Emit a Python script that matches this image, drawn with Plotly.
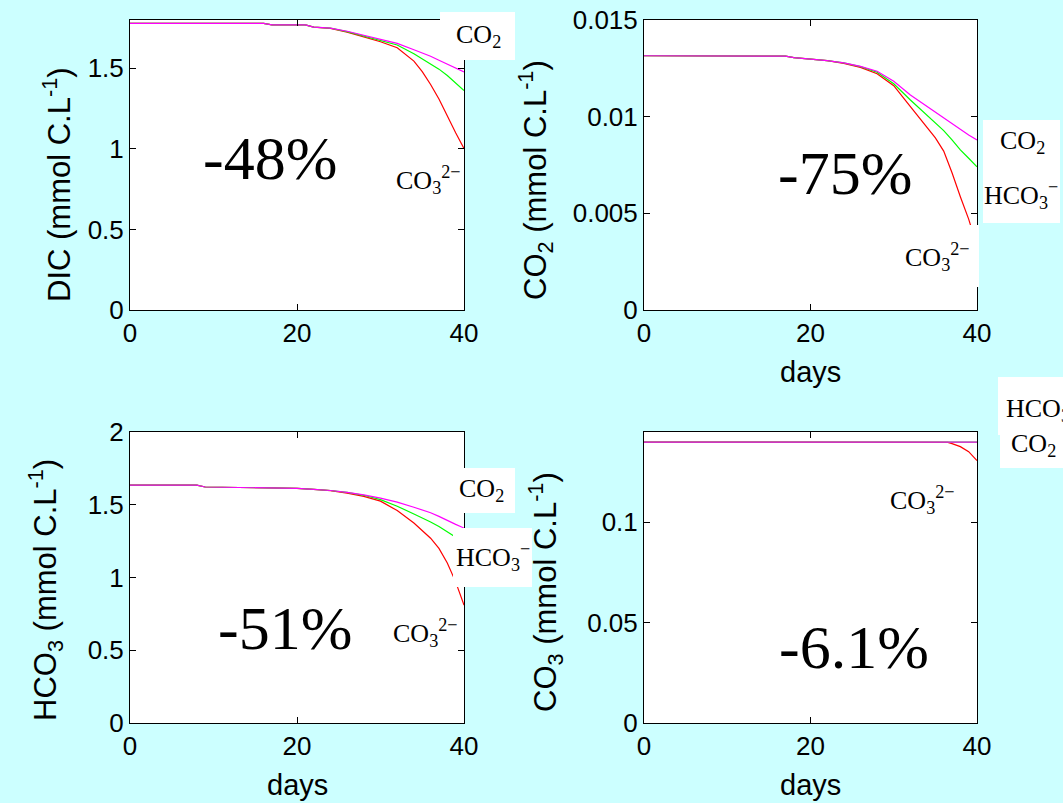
import plotly.graph_objects as go

W, H = 1063, 803

# ---------------- data ----------------
# Panel 1: DIC
dic_days = [0, 10, 16, 17, 21, 22, 24, 26, 28, 30, 32, 34, 35, 36, 37, 38, 39, 40]
dic_co2 = [1.779, 1.779, 1.779, 1.770, 1.770, 1.756, 1.750, 1.730, 1.705, 1.680, 1.655, 1.615, 1.595, 1.575, 1.550, 1.525, 1.500, 1.478]
dic_hco3 = [1.779, 1.779, 1.779, 1.770, 1.770, 1.756, 1.750, 1.728, 1.700, 1.672, 1.645, 1.590, 1.560, 1.530, 1.495, 1.455, 1.410, 1.362]
dic_co3 = [1.779, 1.779, 1.779, 1.770, 1.770, 1.756, 1.748, 1.725, 1.695, 1.665, 1.628, 1.545, 1.480, 1.400, 1.310, 1.200, 1.100, 1.003]

# Panel 2: CO2
co2_days = [0, 12, 17, 18, 20, 22, 24, 26, 28, 30, 32, 34, 35, 36, 37, 38, 39, 40]
co2_co2 = [0.01315, 0.01315, 0.01313, 0.01305, 0.01298, 0.01290, 0.01278, 0.01260, 0.01235, 0.01183, 0.01112, 0.01052, 0.01022, 0.00993, 0.00962, 0.00931, 0.00905, 0.00879]
co2_hco3 = [0.01315, 0.01315, 0.01313, 0.01305, 0.01298, 0.01290, 0.01278, 0.01259, 0.01230, 0.01170, 0.01086, 0.01009, 0.00970, 0.00928, 0.00880, 0.00828, 0.00785, 0.00741]
co2_co3 = [0.01315, 0.01315, 0.01313, 0.01305, 0.01298, 0.01290, 0.01276, 0.01255, 0.01222, 0.01160, 0.01052, 0.00948, 0.00890, 0.00822, 0.00710, 0.00586, 0.00470, 0.00330]

# Panel 3: HCO3
hco3_days = [0, 8, 9, 20, 22, 24, 26, 28, 30, 32, 34, 35, 36, 37, 38, 39, 40]
hco3_co2 = [1.635, 1.635, 1.622, 1.613, 1.605, 1.598, 1.585, 1.568, 1.545, 1.518, 1.483, 1.465, 1.445, 1.420, 1.390, 1.365, 1.340]
hco3_hco3 = [1.635, 1.635, 1.622, 1.613, 1.605, 1.598, 1.585, 1.565, 1.535, 1.490, 1.437, 1.410, 1.382, 1.350, 1.315, 1.275, 1.240]
hco3_co3 = [1.635, 1.635, 1.622, 1.613, 1.605, 1.597, 1.580, 1.558, 1.525, 1.460, 1.375, 1.325, 1.270, 1.200, 1.100, 0.970, 0.810]

# Panel 4: CO3
co3_days = [0, 20, 36, 36.5, 37, 38, 39, 40]
co3_co2 = [0.1400, 0.1400, 0.1400, 0.1400, 0.1400, 0.1400, 0.1400, 0.1400]
co3_hco3 = [0.1400, 0.1400, 0.1400, 0.1400, 0.1400, 0.1400, 0.1400, 0.1400]
co3_co3 = [0.1400, 0.1400, 0.1400, 0.1398, 0.1392, 0.1377, 0.1352, 0.1308]

x_ticks = [0, 20, 40]
y_ranges = [[0, 1.8], [0, 0.015], [0, 2], [0, 0.145]]
y_ticks = [[0, 0.5, 1, 1.5], [0, 0.005, 0.01, 0.015], [0, 0.5, 1, 1.5, 2], [0, 0.05, 0.1]]
y_ticktext = [["0", "0.5", "1", "1.5"], ["0", "0.005", "0.01", "0.015"],
              ["0", "0.5", "1", "1.5", "2"], ["0", "0.05", "0.1"]]
y_titles = ["DIC (mmol C.L<sup>-1</sup>)", "CO<sub>2</sub> (mmol C.L<sup>-1</sup>)",
            "HCO<sub>3</sub> (mmol C.L<sup>-1</sup>)", "CO<sub>3</sub> (mmol C.L<sup>-1</sup>)"]
pct_labels = ["-48%", "-75%", "-51%", "-6.1%"]

panels = [
    (dic_days, dic_co3, dic_hco3, dic_co2),
    (co2_days, co2_co3, co2_hco3, co2_co2),
    (hco3_days, hco3_co3, hco3_hco3, hco3_co2),
    (co3_days, co3_co3, co3_hco3, co3_co2),
]
colors = ["#FF0000", "#00FF00", "#FF00FF"]
names = ["CO3", "HCO3", "CO2"]

# pixel boxes of the axes (left, right, top, bottom)
boxes = [(130, 464, 20, 310), (644, 977, 20, 310), (130, 464, 432, 723), (644, 977, 432, 723)]


def px(x):
    return x / W


def py(y):
    return 1 - y / H


fig = go.Figure()
for i, (days, r, g, m) in enumerate(panels):
    suffix = "" if i == 0 else str(i + 1)
    for vals, c, n in zip((r, g, m), colors, names):
        fig.add_trace(go.Scatter(x=days, y=vals, mode="lines", name=n,
                                 line=dict(color=c, width=1.2),
                                 xaxis="x" + suffix, yaxis="y" + suffix,
                                 showlegend=False, hoverinfo="skip"))

tickfont = dict(family="Liberation Sans, Arial, sans-serif", size=26, color="black")
layout = dict(width=W, height=H, autosize=False,
              margin=dict(l=0, r=0, t=0, b=0, pad=0, autoexpand=False),
              paper_bgcolor="#CCFFFF", plot_bgcolor="white", showlegend=False)
for i, (l, rr, t, b) in enumerate(boxes):
    suffix = "" if i == 0 else str(i + 1)
    layout["xaxis" + suffix] = dict(
        domain=[px(l), px(rr)], range=[0, 40], tickvals=x_ticks,
        ticks="inside", ticklen=6, tickcolor="black", showline=True, linecolor="black",
        linewidth=1, mirror="ticks", showgrid=False, zeroline=False, tickfont=tickfont,
        anchor="y" + suffix, fixedrange=True, automargin=False)
    layout["yaxis" + suffix] = dict(
        domain=[py(b), py(t)], range=y_ranges[i], tickvals=y_ticks[i], ticktext=y_ticktext[i],
        ticks="inside", ticklen=6, tickcolor="black", showline=True, linecolor="black",
        linewidth=1, mirror="ticks", showgrid=False, zeroline=False, tickfont=tickfont,
        anchor="x" + suffix, fixedrange=True, automargin=False)
fig.update_layout(**layout)

ann = []
sans = "Liberation Sans, Arial, sans-serif"
serif = "Liberation Serif, Times New Roman, serif"

# y titles
ytitle_pos = [(57, 185), (535, 180), (45, 590), (545, 592)]
for (x, y), t in zip(ytitle_pos, y_titles):
    ann.append(dict(x=px(x), y=py(y), xref="paper", yref="paper", text=t, textangle=-90,
                    showarrow=False, xanchor="center", yanchor="middle",
                    font=dict(family=sans, size=31, color="black")))
# x titles
for x, y in [(810, 372), (297, 785), (810, 785)]:
    ann.append(dict(x=px(x), y=py(y), xref="paper", yref="paper", text="days",
                    showarrow=False, xanchor="center", yanchor="middle",
                    font=dict(family=sans, size=29, color="black")))
# percent labels
for (x, y), t in zip([(270, 158), (845, 173), (285, 628), (854, 647)], pct_labels):
    ann.append(dict(x=px(x), y=py(y), xref="paper", yref="paper", text=t,
                    showarrow=False, xanchor="center", yanchor="middle",
                    font=dict(family=serif, size=62, color="black")))

lab_font = dict(family=serif, size=26, color="black")
CO2 = "CO<sub>2</sub>"
HCO3 = "HCO<sub>3</sub><sup>−</sup>"
CO3 = "CO<sub>3</sub><sup>2−</sup>"

# in-plot labels (no box needed, background is white)
for x, y in [(428, 180), (425, 633), (922, 500)]:
    ann.append(dict(x=px(x), y=py(y), xref="paper", yref="paper", text=CO3,
                    showarrow=False, xanchor="center", yanchor="middle", font=lab_font))

# white label boxes (left, right, top, bottom)
white_boxes = [(440, 515, 12, 60), (983, 1060, 120, 223), (893, 979, 225, 287),
               (447, 515, 468, 513), (453, 532, 528, 587), (998, 1080, 377, 435),
               (1000, 1080, 432, 468)]
for l, rr, t, b in white_boxes:
    ann.append(dict(x=px((l + rr) / 2), y=py((t + b) / 2), xref="paper", yref="paper",
                    text=" ", showarrow=False, xanchor="center", yanchor="middle",
                    width=rr - l, height=b - t, bgcolor="white", borderpad=0, borderwidth=0))

box_texts = [(CO2, 478, 36, "center"), (CO2, 1022, 142, "center"), (HCO3, 1021, 195, "center"),
             (CO3, 937, 257, "center"), (CO2, 481, 490, "center"), (HCO3, 493, 557, "center"),
             (HCO3, 1004, 408, "left"), (CO2, 1009, 445, "left")]
for t, x, y, anc in box_texts:
    ann.append(dict(x=px(x), y=py(y), xref="paper", yref="paper", text=t,
                    showarrow=False, xanchor=anc, yanchor="middle", font=lab_font))

fig.update_layout(annotations=ann)
fig.write_html("out.html")
